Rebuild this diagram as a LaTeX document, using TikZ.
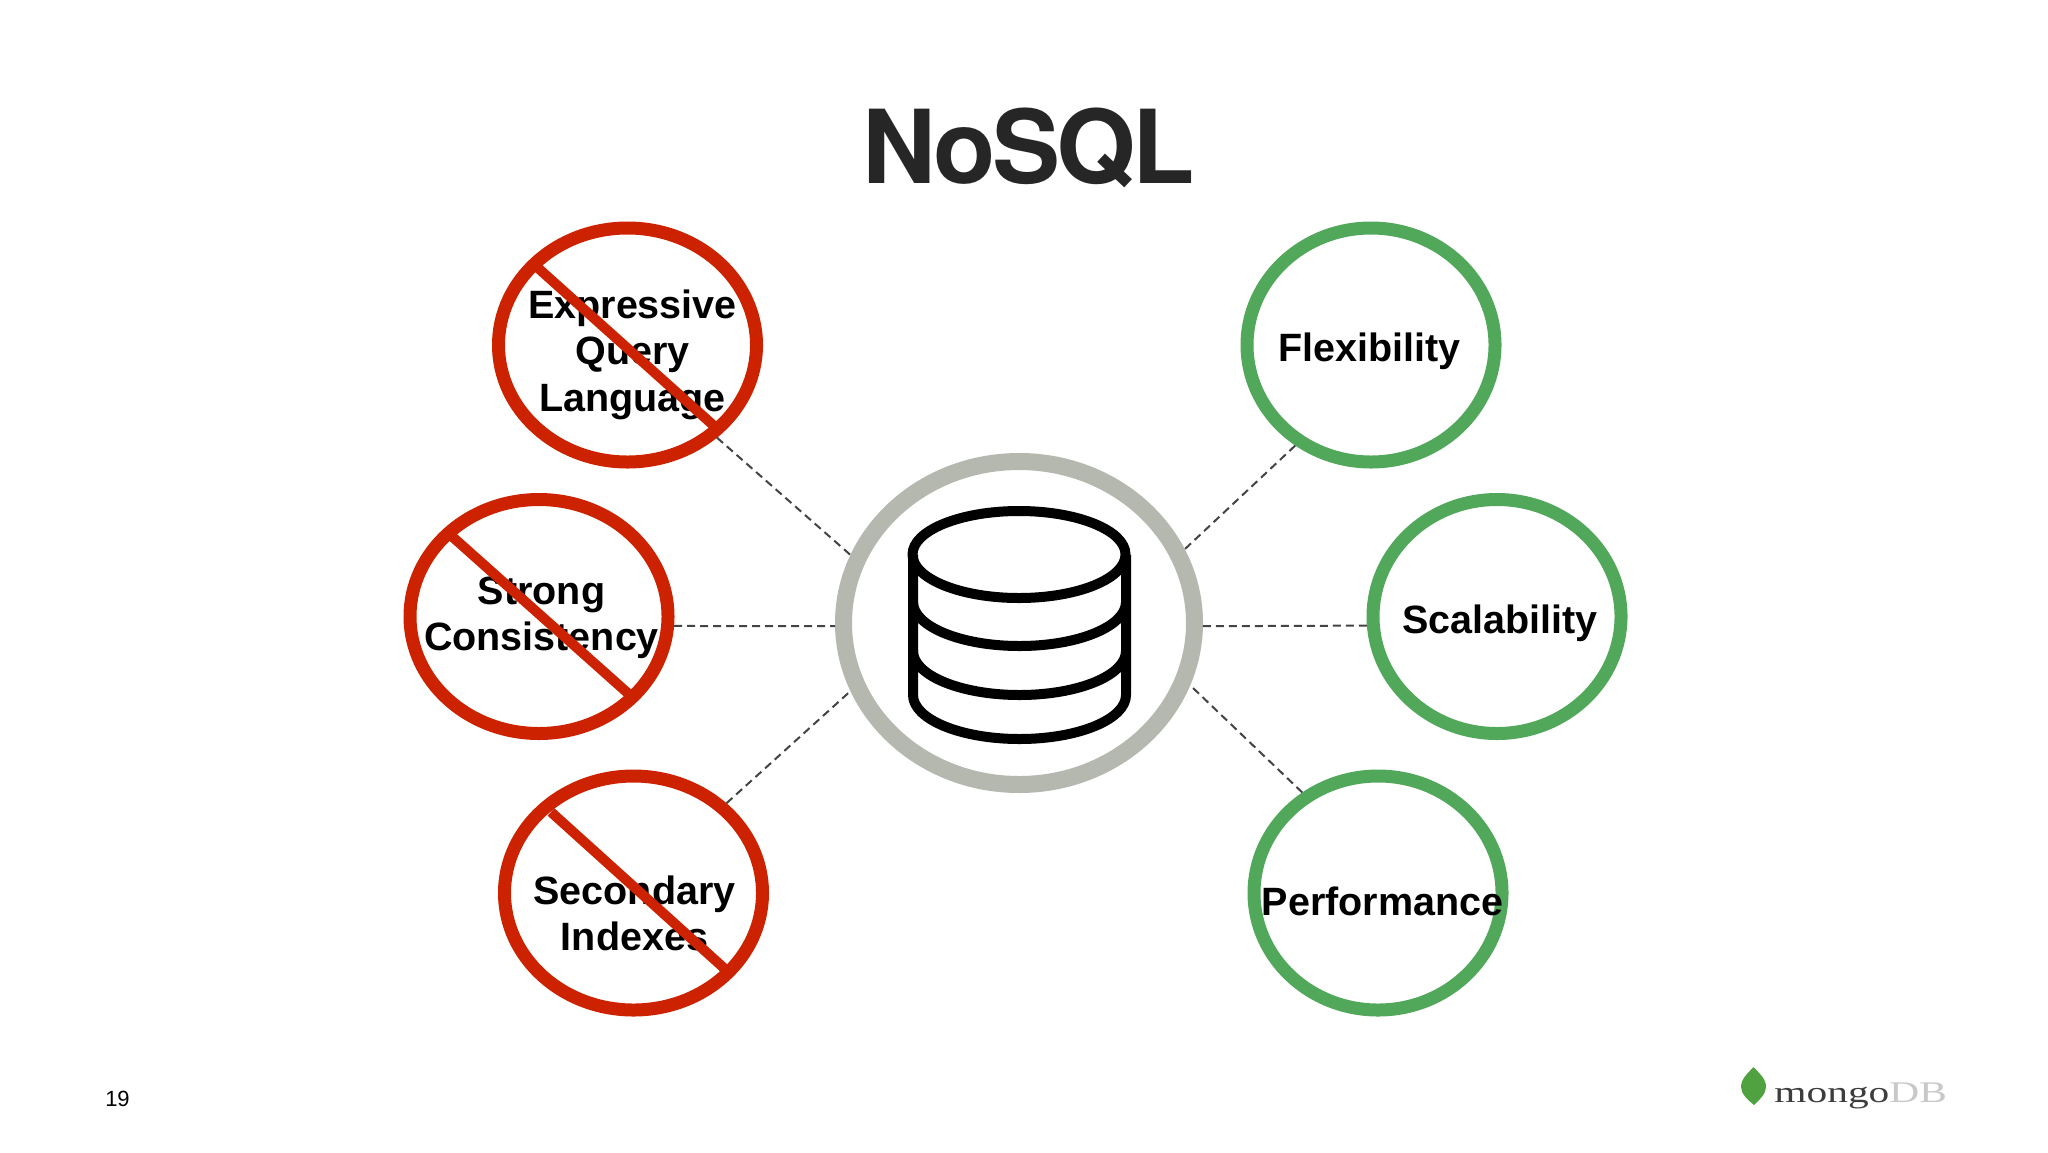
\documentclass[tikz,border=0pt]{standalone}
\usepackage{fontspec}
\setmainfont{Liberation Sans}
\newfontfamily\serifwide{Liberation Serif}
\newfontfamily\titlefont[LetterSpace=-3.5]{TeX Gyre Heros}
\usetikzlibrary{shapes.geometric}
\definecolor{noRed}{HTML}{CC2200}
\definecolor{yesGreen}{HTML}{52A85A}
\definecolor{hubGray}{HTML}{B4B8AE}
\definecolor{dashGray}{HTML}{444444}
\definecolor{titleInk}{HTML}{262626}
\definecolor{leafGreen}{HTML}{4FA23F}
\definecolor{mongoInk}{HTML}{3D3D3D}
\definecolor{dbInk}{HTML}{C8C8C8}
\tikzset{
  ring/.style 2 args={ellipse,draw,inner sep=0pt,minimum width=#1 pt,minimum height=#2 pt},
  badring/.style={ring={129}{117},draw=noRed,line width=6.5pt},
  goodring/.style={ring={124}{117},draw=yesGreen,line width=6.5pt},
  hubring/.style={ring={175.5}{161.5},draw=hubGray,line width=8.5pt},
  slash/.style={draw=noRed,line width=5pt},
  link/.style={draw=dashGray,line width=1pt,dash pattern=on 4pt off 2.5pt},
  lbl/.style={font=\fontsize{19.75}{23}\selectfont\bfseries,align=center,text=black,inner sep=0pt},
  dbicon/.style={draw=black,line width=5pt,line join=round}
}
\begin{document}
\begin{tikzpicture}[x=0.5pt,y=-0.5pt]
\useasboundingbox (0,0) rectangle (2048,1152);
\fill[white] (0,0) rectangle (2048,1152);
% rings
\node[badring] (expr) at (627.5,345) {};
\node[badring] (strong) at (539,616.5) {};
\node[badring] (second) at (633.5,893) {};
\node[goodring] (flex) at (1371,345) {};
\node[goodring] (scal) at (1497,616.5) {};
\node[goodring] (perf) at (1378,893) {};
\node[hubring] (hub) at (1019,623) {};
% dashed connectors
\draw[link] (expr.-46) -- (hub.158.5);
\draw[link] (strong.-4) -- (hub.181);
\draw[link] (second.44) -- (hub.202.8);
\draw[link] (flex.-127) -- (hub.24.5);
\draw[link] (scal.184) -- (hub.-1);
\draw[link] (perf.127) -- (hub.-20.3);
% database icon
\draw[dbicon] (1019,554.5) ellipse [x radius=106.5,y radius=43.5];
\draw[dbicon] (913,554.5) -- (913,695) arc[start angle=180,end angle=0,x radius=106.5,y radius=44] -- (1126,554.5);
\draw[dbicon] (913,602) arc[start angle=180,end angle=0,x radius=106.5,y radius=44];
\draw[dbicon] (913,651) arc[start angle=180,end angle=0,x radius=106.5,y radius=44];
% labels
\node[lbl] (t1) at (632.5,355) {Expressive\\Query\\[0.5pt]Language};
\node[lbl] (t2) at (541.5,618) {Strong\\Consistency};
\node[lbl] (t3) at (634.5,913) {Secondary\\Indexes};
\node[lbl] (t4) at (1369.5,351) {Flexibility};
\node[lbl] (t5) at (1500,623) {Scalability};
\node[lbl] (t6) at (1382.5,901) {Performance};
% slashes
\coordinate (e1) at (538,268); \coordinate (e2) at (713,425);
\coordinate (s1) at (451,535.5); \coordinate (s2) at (631,696);
\coordinate (i1) at (551,812); \coordinate (i2) at (725,969);
\draw[slash] (e1) -- (e2);
\draw[slash] (s1) -- (s2);
\draw[slash] (i1) -- (i2);
% title
\node[anchor=base,inner sep=0pt,text=titleInk,font=\fontsize{51}{60}\selectfont\titlefont\bfseries] (title) at (1028.5,183) {NoSQL};
% page number
\node[anchor=base,inner sep=0pt,text=black,font=\fontsize{11}{13}\selectfont] (page) at (117.5,1106) {19};
% logo
\fill[leafGreen] (1753.5,1067) .. controls (1760,1074) and (1766,1079) .. (1766,1087) .. controls (1766,1094) and (1759,1100) .. (1754,1105) .. controls (1748,1100) and (1741,1094) .. (1741,1087) .. controls (1741,1079) and (1747,1074) .. (1753.5,1067) -- cycle;
\node[anchor=base west,inner sep=0pt,font=\fontsize{15}{18}\selectfont\serifwide] (logo) at (1774,1102) {\scalebox{1.38}[1]{\textcolor{mongoInk}{mongo}\textcolor{dbInk}{DB}}};
\end{tikzpicture}
\end{document}
